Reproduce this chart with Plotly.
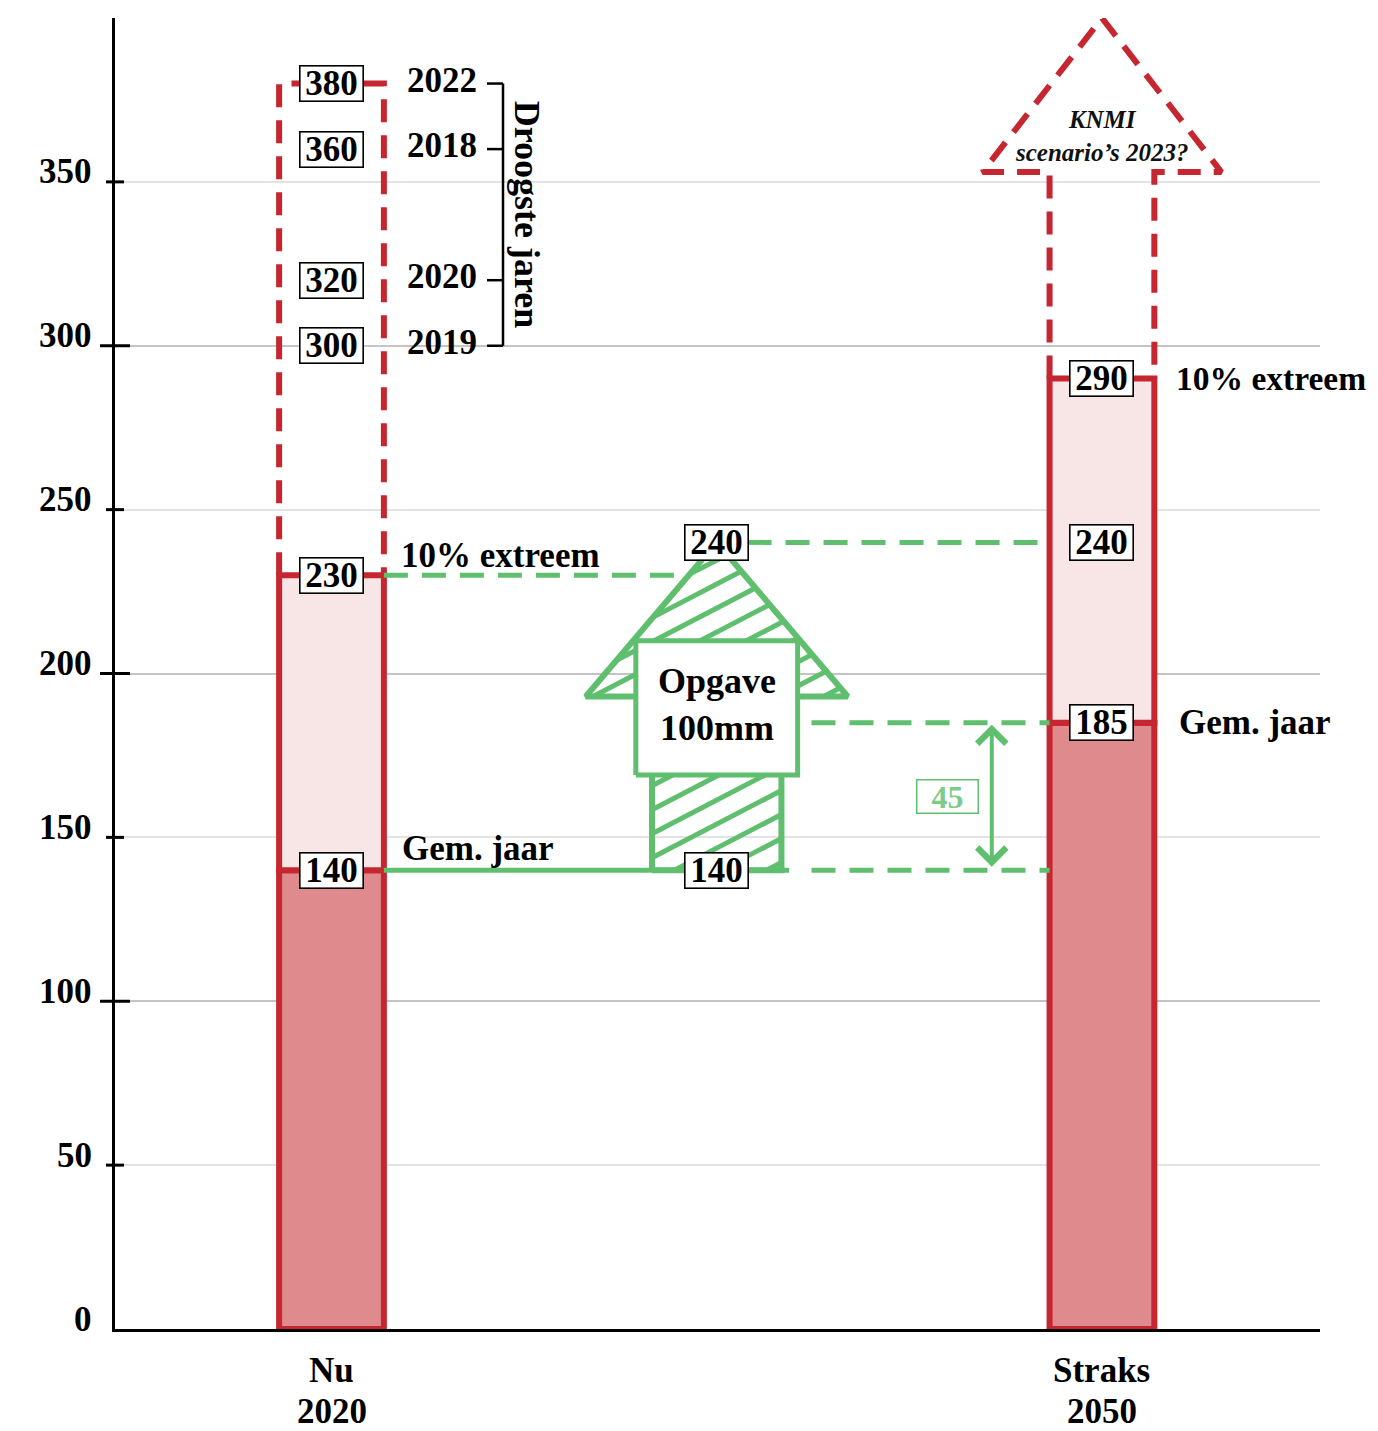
import plotly.graph_objects as go

# ---------------- data ----------------
categories = ["Nu", "Straks"]
category_years = ["2020", "2050"]
gem_jaar = [140, 185]          # gemiddeld jaar
extreem_10 = [230, 290]        # 10% extreem
droogste_jaren = ["2022", "2018", "2020", "2019"]
droogste_waarden = [380, 360, 320, 300]
opgave_mm = 100                # Opgave 100mm -> 140 + 100 = 240
verschil = 45                  # 185 - 140
knmi_base = 353
knmi_top = 400
y_ticks = [0, 50, 100, 150, 200, 250, 300, 350]

# ---------------- style ----------------
FONT = "Liberation Serif"
RED = "#c62630"
DARK = "#df8a8d"
LIGHT = "#f8e5e6"
GREEN = "#5fbf6f"
LGREEN = "#7ccb8b"
W, H = 1378, 1431
ML, MR, MT, MB = 115, 58, 18, 102
PW, PH = W - ML - MR, H - MT - MB
XR = [0.719, 2.283]
YR = [0, 400]
BW = 0.136
HW = BW / 2
FS = 35

xs = [1, 2]
fig = go.Figure()

# bars
fig.add_trace(go.Bar(x=xs, y=gem_jaar, width=BW, marker=dict(color=DARK, line=dict(color=RED, width=6)),
                     hoverinfo="skip", showlegend=False))
fig.add_trace(go.Bar(x=xs, base=gem_jaar, y=[e - g for e, g in zip(extreem_10, gem_jaar)], width=BW,
                     marker=dict(color=LIGHT, line=dict(color=RED, width=6)), hoverinfo="skip", showlegend=False))

RDASH = "23px,13px"
top_now = max(droogste_waarden)
fig.add_trace(go.Scatter(x=[xs[0] - HW, xs[0] - HW, xs[0] + HW, xs[0] + HW],
                         y=[extreem_10[0], top_now, top_now, extreem_10[0]],
                         mode="lines", line=dict(color=RED, width=6, dash=RDASH),
                         hoverinfo="skip", showlegend=False))
tip = 0.155
fig.add_trace(go.Scatter(x=[xs[1] - HW, xs[1] - HW, xs[1] - tip, xs[1], xs[1] + tip, xs[1] + HW, xs[1] + HW],
                         y=[extreem_10[1], knmi_base, knmi_base, knmi_top, knmi_base, knmi_base, extreem_10[1]],
                         mode="lines", line=dict(color=RED, width=6, dash=RDASH),
                         hoverinfo="skip", showlegend=False))

# green connecting lines
GDASH = "24px,14px"
xc = (xs[0] + xs[1]) / 2
target = gem_jaar[0] + opgave_mm
shaft_hw = 0.084
wing_hw = 0.17
wing_y = 193
box_hw = 0.105
box_y0, box_y1 = 169, 210
x_int = xc - wing_hw * (target - extreem_10[0]) / (target - wing_y)

def gline(x0, x1, y, dash=None):
    fig.add_trace(go.Scatter(x=[x0, x1], y=[y, y], mode="lines",
                             line=dict(color=GREEN, width=5, dash=dash),
                             hoverinfo="skip", showlegend=False))

gline(xs[0] + HW, xc + shaft_hw + 0.01, gem_jaar[0])
gline(xc + box_hw + 0.018, xs[1] - HW, gem_jaar[0], GDASH)
gline(xs[0] + HW, x_int, extreem_10[0], GDASH)
gline(xc + 0.04, xs[1] - HW, target, GDASH)
gline(xc + box_hw + 0.018, xs[1] - HW, gem_jaar[1], GDASH)

# ---- big hatched arrow ----
sx = PW / (XR[1] - XR[0])
sy = PH / (YR[1] - YR[0])
def to_px(x, y):
    return ((x - XR[0]) * sx, (y - YR[0]) * sy)
def to_data(X, Y):
    return (X / sx + XR[0], Y / sy + YR[0])

shaft = [(xc - shaft_hw, gem_jaar[0]), (xc - shaft_hw, wing_y), (xc + shaft_hw, wing_y), (xc + shaft_hw, gem_jaar[0])]
head = [(xc - wing_hw, wing_y), (xc, target), (xc + wing_hw, wing_y)]
slope = 0.52
step = 24.0
hx, hy = [], []
for poly in (shaft, head):
    P = [to_px(*p) for p in poly]
    cs = [Y - slope * X for X, Y in P]
    c = (min(cs) // step) * step
    while c < max(cs):
        pts = []
        n = len(P)
        for i in range(n):
            (X1, Y1), (X2, Y2) = P[i], P[(i + 1) % n]
            f1, f2 = Y1 - slope * X1 - c, Y2 - slope * X2 - c
            if f1 == f2:
                continue
            if (f1 <= 0 <= f2) or (f2 <= 0 <= f1):
                t = f1 / (f1 - f2)
                pts.append((X1 + t * (X2 - X1), Y1 + t * (Y2 - Y1)))
        if len(pts) >= 2:
            pts.sort()
            a, b = to_data(*pts[0]), to_data(*pts[-1])
            hx += [a[0], b[0], None]
            hy += [a[1], b[1], None]
        c += step
fig.add_trace(go.Scatter(x=hx, y=hy, mode="lines", line=dict(color=GREEN, width=5),
                         hoverinfo="skip", showlegend=False))

ax_ = [xc - shaft_hw, xc - shaft_hw, xc - wing_hw, xc, xc + wing_hw, xc + shaft_hw, xc + shaft_hw, xc - shaft_hw]
ay_ = [gem_jaar[0], wing_y, wing_y, target, wing_y, wing_y, gem_jaar[0], gem_jaar[0]]
fig.add_trace(go.Scatter(x=ax_, y=ay_, mode="lines", line=dict(color=GREEN, width=6),
                         hoverinfo="skip", showlegend=False))
fig.add_trace(go.Scatter(x=[xc - box_hw, xc - box_hw, xc + box_hw, xc + box_hw, xc - box_hw],
                         y=[box_y0, box_y1, box_y1, box_y0, box_y0], mode="lines", fill="toself",
                         fillcolor="white", line=dict(color=GREEN, width=5),
                         hoverinfo="skip", showlegend=False))

ann = []
def label(x, y, t, size=FS, color="black", **kw):
    d = dict(x=x, y=y, xref="x", yref="y", text=t, showarrow=False,
             font=dict(family=FONT, size=size, color=color, weight="bold"))
    d.update(kw)
    ann.append(d)

def boxed(x, y, v):
    label(x, y, str(v), bgcolor="white", bordercolor="black", borderwidth=1.6,
          borderpad=2, width=58, height=30)

for v in [gem_jaar[0], extreem_10[0]] + droogste_waarden:
    boxed(xs[0], v, v)
for v in [gem_jaar[1], target, extreem_10[1]]:
    boxed(xs[1], v, v)
boxed(xc, target, target)
boxed(xc, gem_jaar[0], gem_jaar[0])

# double arrow for difference
xd = 1.857
ann.append(dict(x=xd, y=gem_jaar[1], ax=xd, ay=gem_jaar[0], xref="x", yref="y", axref="x", ayref="y",
                text="", showarrow=True, arrowhead=4, startarrowhead=4, arrowside="end+start",
                arrowsize=1.4, startarrowsize=1.4, arrowwidth=4, arrowcolor=GREEN, standoff=2, startstandoff=2))
label(1.800, (gem_jaar[0] + gem_jaar[1]) / 2, str(verschil), size=32, color=LGREEN, bgcolor="white",
      bordercolor=GREEN, borderwidth=1.5, borderpad=2, width=56, height=28)

# side texts
label(1.087, extreem_10[0] + 6, "10% extreem", xanchor="left")
label(1.089, gem_jaar[0] + 6.5, "Gem. jaar", xanchor="left")
label(2.093, extreem_10[1], "10% extreem", size=33.5, xanchor="left")
label(2.097, gem_jaar[1], "Gem. jaar", xanchor="left")
label(xc, 190.5, "Opgave<br>100mm", size=36)
ann.append(dict(x=xs[1], y=364, xref="x", yref="y", showarrow=False,
                text="<i>KNMI<br>scenario’s 2023?</i>",
                font=dict(family=FONT, size=25, color="#111", weight="bold")))

# droogste jaren
bx = 1.2226
for yr, v in zip(droogste_jaren, droogste_waarden):
    label(1.191, v + 1, yr, xanchor="right")
    fig.add_shape(type="line", x0=1.2018, x1=bx, y0=v, y1=v, line=dict(color="black", width=2.5))
fig.add_shape(type="line", x0=bx, x1=bx, y0=min(droogste_waarden), y1=max(droogste_waarden),
              line=dict(color="black", width=2.5))
label(1.2537, (min(droogste_waarden) + max(droogste_waarden)) / 2, "Droogste jaren", size=36, textangle=90)

# y ticks & labels
for v in y_ticks:
    L = 15 if v % 100 == 0 else 9
    if v > 0:
        fig.add_shape(type="line", xref="paper", yref="y", xsizemode="pixel", xanchor=0,
                      x0=-L, x1=L, y0=v, y1=v, line=dict(color="black", width=3))
    ann.append(dict(x=0, xref="paper", y=v, yref="y", text=str(v), showarrow=False, xanchor="right",
                    xshift=-21, yshift=10, font=dict(family=FONT, size=FS, color="black", weight="bold")))

# category labels
for x, c, yr in zip(xs, categories, category_years):
    ann.append(dict(x=x, xref="x", y=0, yref="paper", yanchor="middle", yshift=-41, showarrow=False,
                    text=c, font=dict(family=FONT, size=FS, color="black", weight="bold")))
    ann.append(dict(x=x, xref="x", y=0, yref="paper", yanchor="middle", yshift=-82, showarrow=False,
                    text=yr, font=dict(family=FONT, size=FS, color="black", weight="bold")))

fig.update_layout(
    width=W, height=H, margin=dict(l=ML, r=MR, t=MT, b=MB),
    paper_bgcolor="white", plot_bgcolor="white", barmode="overlay",
    annotations=ann, showlegend=False,
    xaxis=dict(range=XR, showgrid=False, zeroline=False, showticklabels=False, ticks="",
               showline=True, linecolor="black", linewidth=3, fixedrange=True),
    yaxis=dict(range=YR, dtick=100, showgrid=True, gridcolor="#c4c4c4", gridwidth=2,
               zeroline=False, showticklabels=False, ticks="", showline=True, linecolor="black", linewidth=3,
               minor=dict(dtick=50, showgrid=True, gridcolor="#e3e3e3", gridwidth=2), fixedrange=True),
)

fig.write_html("out.html", config={"displayModeBar": False},
               post_script="document.body.style.margin='0';document.body.style.overflow='hidden';")
